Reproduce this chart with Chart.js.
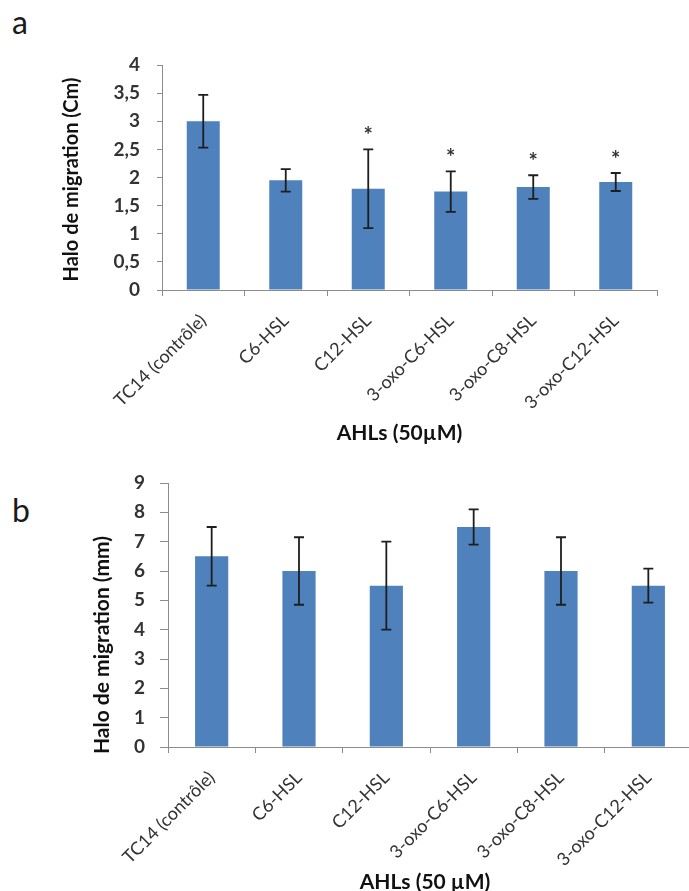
<!DOCTYPE html>
<html>
<head>
<meta charset="utf-8">
<script src="https://cdn.jsdelivr.net/npm/chart.js@4.4.1/dist/chart.umd.min.js"></script>
<style>
    html, body { margin: 0; padding: 0; background: #ffffff; overflow: hidden; }
    body { width: 689px; height: 891px; position: relative; }
    canvas { position: absolute; left: 0; }
    .panel { position: absolute; left: 12px; font-family: 'Lato', 'Open Sans', sans-serif; font-size: 32px; color: #1a1a1a; line-height: 1; }
</style>
</head>
<body>
<div class="panel" style="top: 6px;">a</div>
<div class="panel" style="top: 494px;">b</div>
<canvas id="chartA" width="700" height="455" style="top: 0px;"></canvas>
<canvas id="chartB" width="700" height="441" style="top: 450px;"></canvas>
<script>
// AHL treatments (x categories, shared by both panels)
const ahlLabels = ['TC14 (contrôle)', 'C6-HSL', 'C12-HSL', '3-oxo-C6-HSL', '3-oxo-C8-HSL', '3-oxo-C12-HSL'];

// panel a: migration halo in cm, with error bars and significance marks
const haloCm = [3.0, 1.95, 1.8, 1.75, 1.83, 1.92];
const haloCmErr = [0.47, 0.2, 0.7, 0.36, 0.21, 0.16];
const haloCmSig = ['', '', '*', '*', '*', '*'];
const haloCmTicks = [0, 0.5, 1, 1.5, 2, 2.5, 3, 3.5, 4];

// panel b: migration halo in mm
const haloMm = [6.5, 6.0, 5.5, 7.5, 6.0, 5.5];
const haloMmErr = [1.0, 1.15, 1.5, 0.6, 1.15, 0.58];
const haloMmSig = ['', '', '', '', '', ''];
const haloMmTicks = [0, 1, 2, 3, 4, 5, 6, 7, 8, 9];

const FONT = "'Lato', 'Open Sans', sans-serif";
const BAR_BLUE = '#4f81bd';
const AXIS_GRAY = '#8c8c8c';
const TICK_TEXT = '#333333';

// draws the +/- error bar on each bar and the "*" above it
const errorBars = {
    id: 'errorBars',
    afterDatasetsDraw(chart, args, opts) {
        const ctx = chart.ctx;
        const yScale = chart.scales.y;
        const values = chart.data.datasets[0].data;
        const meta = chart.getDatasetMeta(0);
        ctx.save();
        ctx.strokeStyle = opts.color;
        ctx.lineWidth = opts.width;
        meta.data.forEach((bar, i) => {
            const yTop = yScale.getPixelForValue(values[i] + opts.errors[i]);
            const yBot = yScale.getPixelForValue(values[i] - opts.errors[i]);
            const half = opts.capWidth / 2;
            ctx.beginPath();
            ctx.moveTo(bar.x, yTop); ctx.lineTo(bar.x, yBot);
            ctx.moveTo(bar.x - half, yTop); ctx.lineTo(bar.x + half, yTop);
            ctx.moveTo(bar.x - half, yBot); ctx.lineTo(bar.x + half, yBot);
            ctx.stroke();
            if (opts.marks[i]) {
                ctx.fillStyle = opts.markColor;
                ctx.font = 'bold 22px ' + FONT;
                ctx.textAlign = 'center';
                ctx.textBaseline = 'middle';
                ctx.fillText(opts.marks[i], bar.x, yTop - opts.markGap);
            }
        });
        ctx.restore();
    }
};

// axis titles placed like the original figure (not quite centred on the plot)
const axisTitles = {
    id: 'axisTitles',
    afterDraw(chart, args, opts) {
        const { ctx, chartArea } = chart;
        ctx.save();
        ctx.fillStyle = '#111111';
        ctx.textAlign = 'center';
        ctx.textBaseline = 'middle';
        ctx.font = 'bold ' + opts.xSize + 'px ' + FONT;
        ctx.fillText(opts.xText, (chartArea.left + chartArea.right) / 2 + opts.xShift, opts.xY);
        ctx.translate(opts.yX, (chartArea.top + chartArea.bottom) / 2 + opts.yShift);
        ctx.rotate(-Math.PI / 2);
        ctx.font = 'bold ' + opts.ySize + 'px ' + FONT;
        ctx.fillText(opts.yText, 0, 0);
        ctx.restore();
    }
};

function makeChart(canvasId, values, errors, marks, ticks, step, look) {
    return new Chart(document.getElementById(canvasId).getContext('2d'), {
        type: 'bar',
        data: {
            labels: ahlLabels,
            datasets: [{ data: values, backgroundColor: BAR_BLUE, borderWidth: 0,
                categoryPercentage: 1, barPercentage: look.barPct }]
        },
        options: {
            responsive: false,
            animation: false,
            layout: { padding: { left: 0, top: look.top, right: look.right, bottom: 0 } },
            plugins: {
                legend: { display: false },
                tooltip: { enabled: false },
                errorBars: { errors: errors, marks: marks, color: '#1e1e1e', width: 1.8, capWidth: 10,
                    markGap: 13, markColor: '#333333' },
                axisTitles: look.titles
            },
            scales: {
                x: {
                    afterFit: scale => { scale.height = look.xHeight; },
                    grid: { drawOnChartArea: false, offset: true, tickLength: 6, color: AXIS_GRAY },
                    border: { color: AXIS_GRAY, width: 1 },
                    ticks: { autoSkip: false, minRotation: 45, maxRotation: 45, padding: 14,
                        color: TICK_TEXT, font: { family: FONT, size: 18 } }
                },
                y: {
                    min: ticks[0],
                    max: ticks[ticks.length - 1],
                    afterFit: scale => { scale.width = look.yWidth; },
                    afterBuildTicks: scale => { scale.ticks = ticks.map(v => ({ value: v })); },
                    grid: { drawOnChartArea: false, tickLength: look.yTick, color: AXIS_GRAY },
                    border: { color: AXIS_GRAY, width: 1 },
                    ticks: { stepSize: step, padding: look.yPad, color: TICK_TEXT,
                        font: { family: FONT, size: 19, weight: 'bold' },
                        callback: v => String(v).replace('.', ',') }
                }
            }
        },
        plugins: [errorBars, axisTitles]
    });
}

makeChart('chartA', haloCm, haloCmErr, haloCmSig, haloCmTicks, 0.5, {
    barPct: 0.4, top: 65, right: 43, xHeight: 165, yWidth: 162, yTick: 5, yPad: 17,
    titles: { xText: 'AHLs (50µM)', xSize: 21, xShift: -10, xY: 433,
              yText: 'Halo de migration (Cm)', ySize: 20, yX: 72, yShift: 2 }
});

makeChart('chartB', haloMm, haloMmErr, haloMmSig, haloMmTicks, 1, {
    barPct: 0.38, top: 33, right: 8, xHeight: 144, yWidth: 168, yTick: 8, yPad: 15,
    titles: { xText: 'AHLs (50 µM)', xSize: 21, xShift: -5, xY: 432,
              yText: 'Halo de migration (mm)', ySize: 21, yX: 102, yShift: 30 }
});
</script>
</body>
</html>
